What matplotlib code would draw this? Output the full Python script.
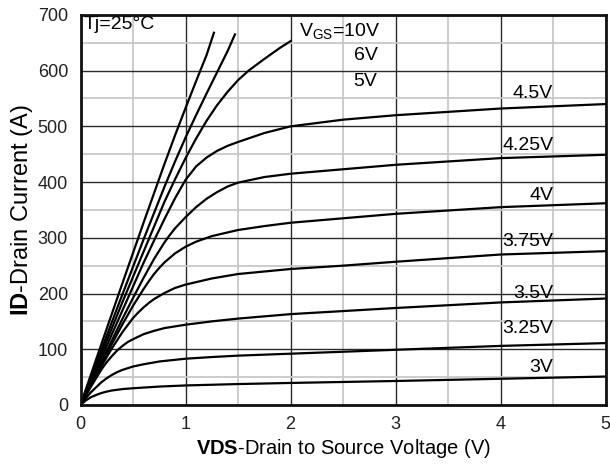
import matplotlib
matplotlib.use("Agg")
import matplotlib.pyplot as plt
from matplotlib.ticker import MultipleLocator

plt.rcParams['font.family'] = ['Liberation Sans', 'DejaVu Sans']
plt.rcParams['mathtext.fontset'] = 'custom'
plt.rcParams['mathtext.rm'] = 'Liberation Sans'
plt.rcParams['mathtext.bf'] = 'Liberation Sans:bold'

# output characteristics, ID (A) vs VDS (V), one curve per gate voltage
vds_3v = [0, 0.025, 0.05, 0.1, 0.15, 0.2, 0.25, 0.3, 0.4, 0.5, 0.75, 1, 1.5, 2, 3, 4, 5]
id_3v = [0, 4, 8, 14, 18, 21.5, 24, 26, 28.5, 30, 33, 35, 37.5, 39.5, 43, 47, 51]

vds_325v = [0, 0.05, 0.1, 0.15, 0.2, 0.25, 0.3, 0.35, 0.4, 0.5, 0.6, 0.75, 1, 1.25, 1.5, 2, 3, 4, 5]
id_325v = [0, 12, 23, 32, 41, 48, 54, 59, 63, 69, 73, 78, 83, 86, 88.5, 92, 99, 106, 111]

vds_35v = [0, 0.1, 0.2, 0.25, 0.3, 0.35, 0.4, 0.45, 0.5, 0.6, 0.7, 0.8, 1, 1.25, 1.5, 2, 3, 4, 5]
id_35v = [0, 33, 64, 77, 88, 98, 106, 113, 118, 127, 133, 138, 144, 150, 155, 163, 174, 184, 191]

vds_375v = [0, 0.1, 0.2, 0.3, 0.4, 0.5, 0.55, 0.6, 0.65, 0.7, 0.8, 0.9, 1,
            1.25, 1.5, 2, 2.5, 3, 4, 5]
id_375v = [0, 36, 70, 102, 131, 156, 166, 175, 183, 190, 201, 210, 216,
           227, 235, 244, 250, 257, 270, 276]

vds_4v = [0, 0.1, 0.2, 0.3, 0.4, 0.5, 0.6, 0.65, 0.7, 0.75, 0.8, 0.9, 1, 1.1,
          1.25, 1.5, 1.75, 2, 2.5, 3, 4, 5]
id_4v = [0, 37, 74, 110, 145, 178, 208, 222, 235, 246, 256, 272, 284, 293,
         303, 314, 321, 327, 335, 343, 355, 362]

vds_425v = [0, 0.2, 0.4, 0.5, 0.6, 0.7, 0.8, 0.85, 0.9, 1, 1.1, 1.2, 1.3, 1.4,
            1.5, 1.75, 2, 2.5, 3, 4, 5]
id_425v = [0, 78, 155, 192, 228, 262, 292, 305, 317, 337, 355, 370, 382, 392,
           399, 409, 415, 423, 431, 443, 449]

vds_45v = [0, 0.2, 0.4, 0.6, 0.7, 0.8, 0.9, 1, 1.1, 1.2, 1.3, 1.4, 1.5, 1.75,
           2, 2.5, 3, 4, 5]
id_45v = [0, 85, 170, 255, 295, 334, 371, 404, 428, 444, 456, 465, 472, 488,
          500, 512, 520, 532, 540]

vds_5v = [0, 0.2, 0.4, 0.6, 0.8, 0.9, 1, 1.1, 1.2, 1.3, 1.4, 1.5, 1.6, 1.75, 1.9, 2]
id_5v = [0, 92, 185, 275, 365, 405, 443, 478, 510, 538, 562, 583, 600, 621, 641, 653]

vds_6v = [0, 0.2, 0.4, 0.6, 0.8, 0.9, 1, 1.1, 1.2, 1.3, 1.4, 1.47]
id_6v = [0, 100, 199, 297, 392, 437, 480, 520, 559, 597, 635, 665]

vds_10v = [0, 0.2, 0.4, 0.6, 0.8, 0.9, 1, 1.1, 1.2, 1.27]
id_10v = [0, 110, 219, 327, 433, 484, 533, 581, 628, 668]

curves = [
    (vds_3v, id_3v), (vds_325v, id_325v), (vds_35v, id_35v),
    (vds_375v, id_375v), (vds_4v, id_4v), (vds_425v, id_425v),
    (vds_45v, id_45v), (vds_5v, id_5v), (vds_6v, id_6v), (vds_10v, id_10v),
]

# right-aligned curve labels near x = 4.5
label_text = ['4.5V', '4.25V', '4V', '3.75V', '3.5V', '3.25V', '3V']
label_y = [559, 466, 376, 293, 200, 137, 68]

fig = plt.figure(figsize=(6.10, 4.66), dpi=100)
ax = fig.add_axes([0.132, 0.131, 0.861, 0.837])

for xs, ys in curves:
    ax.plot(xs, ys, color='black', lw=1.6, solid_joinstyle='round')

ax.set_xlim(0, 5)
ax.set_ylim(0, 700)
ax.xaxis.set_major_locator(MultipleLocator(1))
ax.xaxis.set_minor_locator(MultipleLocator(0.5))
ax.yaxis.set_major_locator(MultipleLocator(100))
ax.yaxis.set_minor_locator(MultipleLocator(50))
ax.grid(which='minor', color='#c8c8c8', lw=1.3)
ax.grid(which='major', color='#2a2a2a', lw=1.0)
ax.set_axisbelow(True)
ax.tick_params(which='both', length=0, labelsize=13, colors='#222222')
ax.tick_params(axis='x', pad=8)
ax.tick_params(axis='y', pad=9)
for s in ax.spines.values():
    s.set_linewidth(2.0)
    s.set_color('#111111')

ax.set_xlabel(r'$\mathbf{VDS}$-Drain to Source Voltage (V)', fontsize=14.5, labelpad=3)
ax.set_ylabel(r'$\mathbf{ID}$-Drain Current (A)', fontsize=17, labelpad=2)

ax.text(0.03, 683, 'Tj=25°C', fontsize=14, va='center', ha='left')
ax.text(2.08, 669, r'V$_{\mathrm{GS}}$=10V', fontsize=14, va='center', ha='left')
ax.text(2.6, 627, '6V', fontsize=14, va='center', ha='left')
ax.text(2.6, 581, '5V', fontsize=14, va='center', ha='left')
for t, y in zip(label_text, label_y):
    ax.text(4.5, y, t, fontsize=14, va='center', ha='right')

fig.savefig('out.png', dpi=100)
